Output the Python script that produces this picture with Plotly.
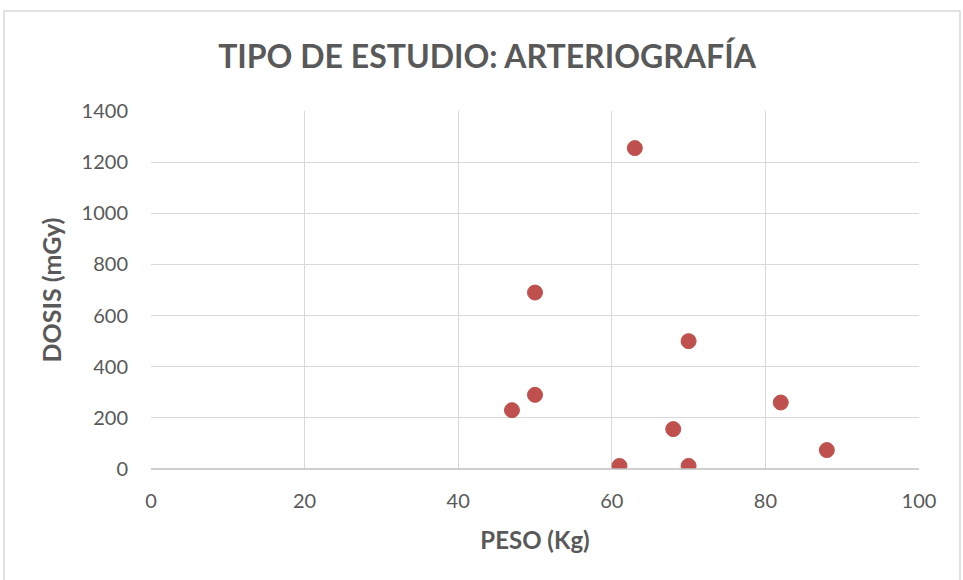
import plotly.graph_objects as go

# Weight (kg) and dose (mGy) per arteriography study
peso_kg = [63, 50, 70, 50, 47, 82, 68, 88, 61, 70]
dosis_mgy = [1255, 690, 500, 290, 230, 260, 156, 74, 12, 12]

x_ticks = [0, 20, 40, 60, 80, 100]
y_ticks = [0, 200, 400, 600, 800, 1000, 1200, 1400]

FONT = "Lato"
GREY = "#595959"

fig = go.Figure(
    go.Scatter(
        x=peso_kg,
        y=dosis_mgy,
        mode="markers",
        marker=dict(size=15, color="#C0504D", line=dict(width=1, color="#C0504D")),
        showlegend=False,
    )
)

fig.update_layout(
    width=963,
    height=580,
    margin=dict(l=151, r=44, t=111, b=111),
    paper_bgcolor="white",
    plot_bgcolor="white",
    font=dict(family=FONT, color=GREY),
    title=dict(
        text="<b>TIPO DE ESTUDIO: ARTERIOGRAFÍA</b>",
        x=487 / 963,
        xref="container",
        xanchor="center",
        y=1 - 57 / 580,
        yanchor="middle",
        font=dict(family=FONT, size=32, color=GREY),
    ),
    xaxis=dict(
        range=[0, 100],
        tickvals=x_ticks,
        ticktext=[str(v) for v in x_ticks],
        showgrid=True,
        gridcolor="#D9D9D9",
        gridwidth=1,
        zeroline=False,
        showline=False,
        ticks="",
        ticklabelstandoff=18,
        tickfont=dict(family=FONT, size=20, color=GREY),
        title=dict(text="<b>PESO (Kg)</b>", font=dict(family=FONT, size=24, color=GREY), standoff=21),
        fixedrange=True,
    ),
    yaxis=dict(
        range=[0, 1400],
        tickvals=y_ticks,
        ticktext=[str(v) for v in y_ticks],
        showgrid=True,
        gridcolor="#D9D9D9",
        gridwidth=1,
        zeroline=False,
        showline=False,
        ticks="",
        ticklabelstandoff=22,
        tickfont=dict(family=FONT, size=20, color=GREY),
        title=dict(text="<b>DOSIS (mGy)</b>", font=dict(family=FONT, size=25, color=GREY), standoff=12),
        fixedrange=True,
    ),
    shapes=[
        # Bottom axis line
        dict(type="line", xref="paper", yref="paper", x0=0, x1=1, y0=0, y1=0,
             line=dict(color="#BFBFBF", width=1.5)),
        # Outer chart-area border
        dict(type="rect", xref="paper", yref="paper",
             x0=(4 - 151) / 768, x1=(960 - 151) / 768,
             y0=(469 - 590) / 358, y1=(469 - 11) / 358,
             line=dict(color="#D9D9D9", width=1.5), fillcolor="rgba(0,0,0,0)", layer="below"),
    ],
)

fig.write_html("out.html")
